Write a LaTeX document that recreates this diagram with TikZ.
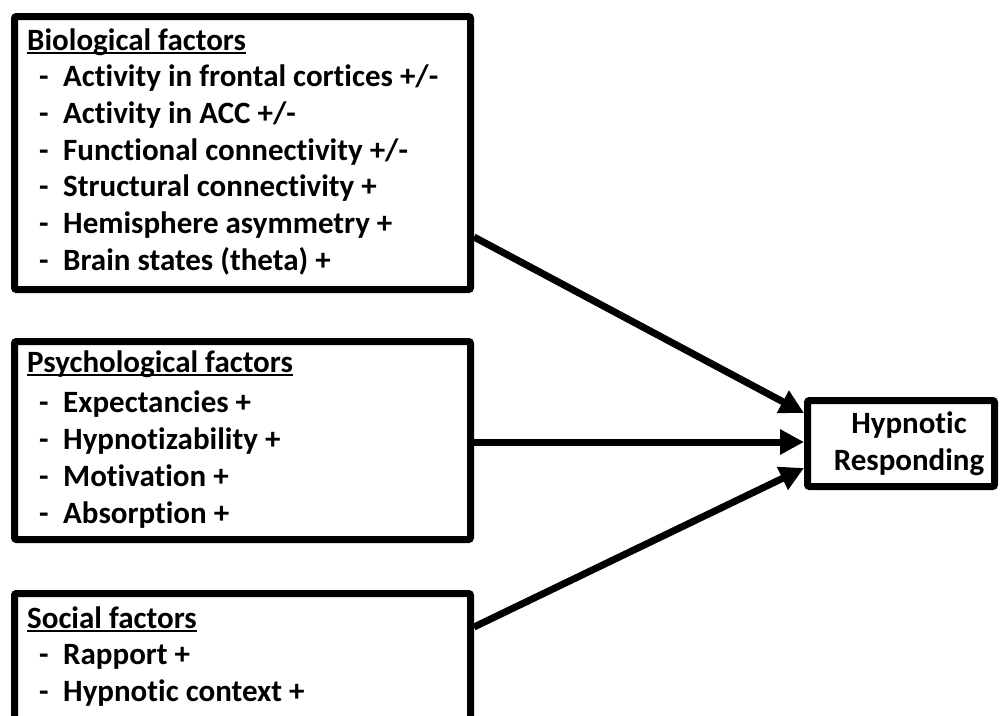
\documentclass[tikz,border=0pt]{standalone}
\usepackage{fontspec}
\setmainfont[Ligatures=NoCommon]{Carlito}
\usetikzlibrary{arrows.meta}
\newcommand{\myul}[1]{\setbox0\hbox{#1}\rlap{\rule[-3pt]{\wd0}{1.9pt}}\box0}
\newcommand{\dashitem}[1]{\makebox[24pt][l]{-}#1}
\tikzset{
  factorbox/.style={draw=black, line width=7pt, rounded corners=2pt, inner sep=0pt, minimum width=456pt},
  resultbox/.style={draw=black, line width=7pt, rounded corners=2pt, inner sep=0pt, minimum width=187pt, minimum height=86pt},
  txt/.style={anchor=base west, inner sep=0pt, font=\fontsize{31}{37}\selectfont\bfseries},
  ctxt/.style={anchor=base, inner sep=0pt, font=\fontsize{31}{37}\selectfont\bfseries},
  link/.style={line width=7pt, -{Triangle[length=24pt,width=24pt]}}
}
\begin{document}
\begin{tikzpicture}[x=1pt,y=-1pt]
\useasboundingbox (0,0) rectangle (1000,715);
\begin{scope}
\clip (0,0) rectangle (1000,715);
% boxes
\node[factorbox, minimum height=273pt] (bio) at (242.5,153) {};
\node[factorbox, minimum height=198pt] (psy) at (242.5,440.5) {};
\node[factorbox, minimum height=128.5pt] (soc) at (242.5,657.75) {};
\node[resultbox] (hyp) at (901,443.5) {};
\end{scope}
% biological text
\node[txt] (b0) at (27,50.5) {\myul{Biological factors}};
\node[txt] (b1) at (39,86.7) {\dashitem{Activity in frontal cortices +/-}};
\node[txt] (b2) at (39,123.4) {\dashitem{Activity in ACC +/-}};
\node[txt] (b3) at (39,160.1) {\dashitem{Functional connectivity +/-}};
\node[txt] (b4) at (39,196.8) {\dashitem{Structural connectivity +}};
\node[txt] (b5) at (39,233.5) {\dashitem{Hemisphere asymmetry +}};
\node[txt] (b6) at (39,270.2) {\dashitem{Brain states (theta) +}};
% psychological text
\node[txt] (p0) at (27,372.5) {\myul{Psychological factors}};
\node[txt] (p1) at (39,412) {\dashitem{Expectancies +}};
\node[txt] (p2) at (39,449) {\dashitem{Hypnotizability +}};
\node[txt] (p3) at (39,486) {\dashitem{Motivation +}};
\node[txt] (p4) at (39,523) {\dashitem{Absorption +}};
% social text
\node[txt] (s0) at (27,628.5) {\myul{Social factors}};
\node[txt] (s1) at (39,664.5) {\dashitem{Rapport +}};
\node[txt] (s2) at (39,701) {\dashitem{Hypnotic context +}};
% outcome text
\node[ctxt] (h1) at (909,433) {Hypnotic};
\node[ctxt] (h2) at (909,470) {Responding};
% connectors
\draw[link] ([yshift=-84pt]bio.east) -- ([yshift=30.5pt]hyp.west);
\draw[link] ([yshift=-1.5pt]psy.east) -- ([yshift=1.5pt]hyp.west);
\draw[link] ([yshift=30.75pt]soc.east) -- ([yshift=-24.5pt]hyp.west);
\end{tikzpicture}
\end{document}
